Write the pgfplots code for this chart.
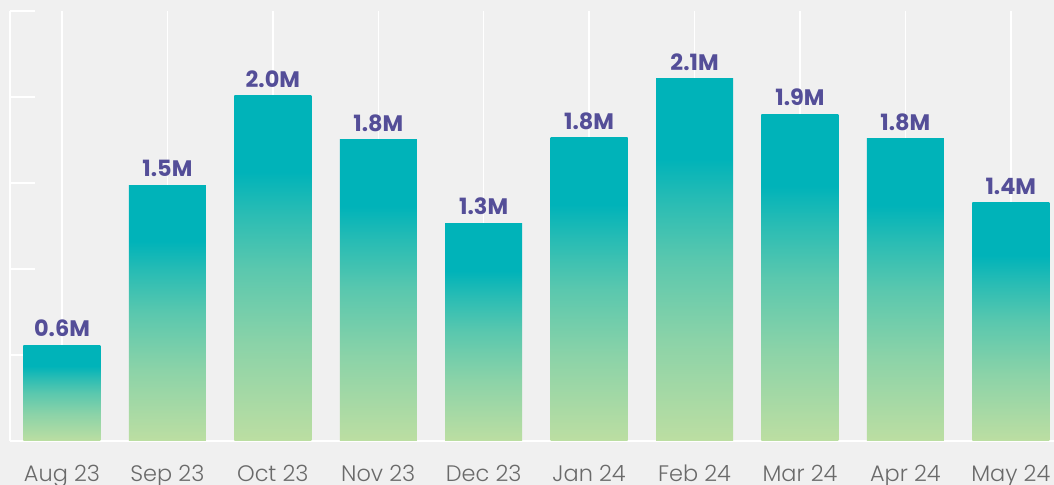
\documentclass[border=0pt]{standalone}
\usepackage{fontspec}
\setmainfont{Poppins}
\newfontfamily\poplight{Poppins Light}
\usepackage{pgfplots}
\pgfplotsset{compat=1.18}
\usepackage{pgfplotstable}
\definecolor{bg}{HTML}{F0F0F0}
\definecolor{teal1}{HTML}{00B3B9}
\definecolor{green1}{HTML}{BCDEA2}
\definecolor{lab}{HTML}{544E98}
\definecolor{tickc}{HTML}{6A6A6A}
\colorlet{gA}{green1!74!teal1}
\colorlet{gB}{green1!48!teal1}
\colorlet{gC}{green1!22!teal1}
\pgfdeclareverticalshading{barshade}{100bp}{color(0bp)=(green1); color(25bp)=(green1); color(39bp)=(gA); color(50bp)=(gB); color(58bp)=(gC); color(64bp)=(teal1); color(75bp)=(teal1); color(100bp)=(teal1)}
\pgfplotstableread{
x y lab
0 0.558 0.6M
1 1.488 1.5M
2 2.006 2.0M
3 1.750 1.8M
4 1.267 1.3M
5 1.762 1.8M
6 2.105 2.1M
7 1.901 1.9M
8 1.756 1.8M
9 1.384 1.4M
}\data
\begin{document}
\begin{tikzpicture}
\path[use as bounding box] (0,0) rectangle (1054bp,485bp);
\fill[bg] (0,0) rectangle (1054bp,485bp);
\begin{axis}[
  at={(10bp,44bp)}, anchor=south west,
  scale only axis, width=1044bp, height=430bp,
  xmin=-0.493, xmax=9.41, ymin=0, ymax=2.5,
  axis x line*=bottom, axis y line*=left,
  axis line style={-, white, line width=1.5bp},
  ytick={0,0.5,1,1.5,2,2.5}, yticklabels={},
  y tick style={white, line width=1.5bp},
  major tick length=25bp, tick align=inside,
  xtick={0,1,2,3,4,5,6,7,8,9},
  xticklabels={Aug 23,Sep 23,Oct 23,Nov 23,Dec 23,Jan 24,Feb 24,Mar 24,Apr 24,May 24},
  x tick style={draw=none},
  xmajorgrids, grid style={white, line width=1.5bp},
  xticklabel style={font=\poplight\fontsize{22.5}{26}\selectfont, text=tickc, anchor=north, inner sep=0pt, yshift=1bp},
  ybar, bar width=77bp, bar shift=0pt, clip=false,
  nodes near coords, point meta=explicit symbolic,
  nodes near coords style={font=\fontsize{22.5}{26}\selectfont\bfseries, text=lab, anchor=south, inner sep=0pt, yshift=8bp},
]
\pgfplotsinvokeforeach{0,...,9}{
  \addplot[draw=none, shading=barshade, restrict expr to domain={\coordindex}{#1:#1}] table[x=x,y=y,meta=lab]{\data};
}
\end{axis}
\end{tikzpicture}
\end{document}
